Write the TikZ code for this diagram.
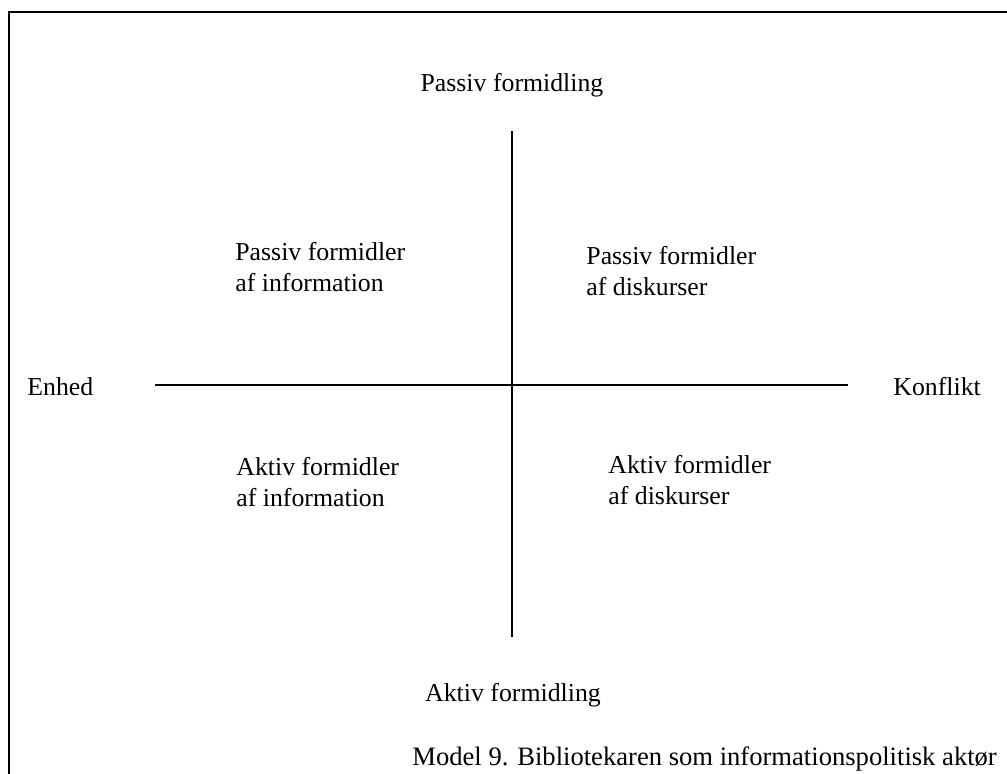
\documentclass[tikz,border=0pt]{standalone}
\usepackage{fontspec}
\setmainfont{Liberation Serif}
\usetikzlibrary{positioning}

\tikzset{lbl/.style={inner sep=0pt, font=\fontsize{12.9}{15.5}\selectfont},
         quad/.style={lbl, align=left, anchor=base west},
         axis/.style={black, line width=.8pt}}

\begin{document}
\begin{tikzpicture} [x=.5pt, y=-.5pt]
\useasboundingbox (0,0) rectangle (1007,774);
% frame
\coordinate (fbl) at (9,774);
\coordinate (ftl) at (9,12);
\coordinate (ftr) at (1007,12);
\draw[black, line width=1.1pt] (fbl) -- (ftl) -- (ftr);

% axes
\coordinate (vtop) at (512,131);
\coordinate (vbot) at (512,637);
\coordinate (hleft) at (155,385);
\coordinate (hright) at (848,385);
\draw[axis] (vtop) -- (vbot);
\draw[axis] (hleft) -- (hright);

\node[lbl, anchor=base] (pasform) at (512,92) {Passiv formidling};
\node[lbl, anchor=base] (aktform) at (513,702) {Aktiv formidling};
\node[lbl, anchor=west] (enhed) at (27,387) {Enhed};
\node[lbl, anchor=west] (konflikt) at (893,387) {Konflikt};

% base = last line
\node[quad] (pinfo) at (235,292) {Passiv formidler\\af information};
\node[quad] (pdisk) at (586,296) {Passiv formidler\\af diskurser};
\node[quad] (ainfo) at (236,507) {Aktiv formidler\\af information};
\node[quad] (adisk) at (608,505) {Aktiv formidler\\af diskurser};

\node[lbl, anchor=base west, font=\fontsize{13.3}{16}\selectfont] (model) at (412,765) {Model 9. Bibliotekaren som informationspolitisk akt\o r};
\end{tikzpicture}
\end{document}
